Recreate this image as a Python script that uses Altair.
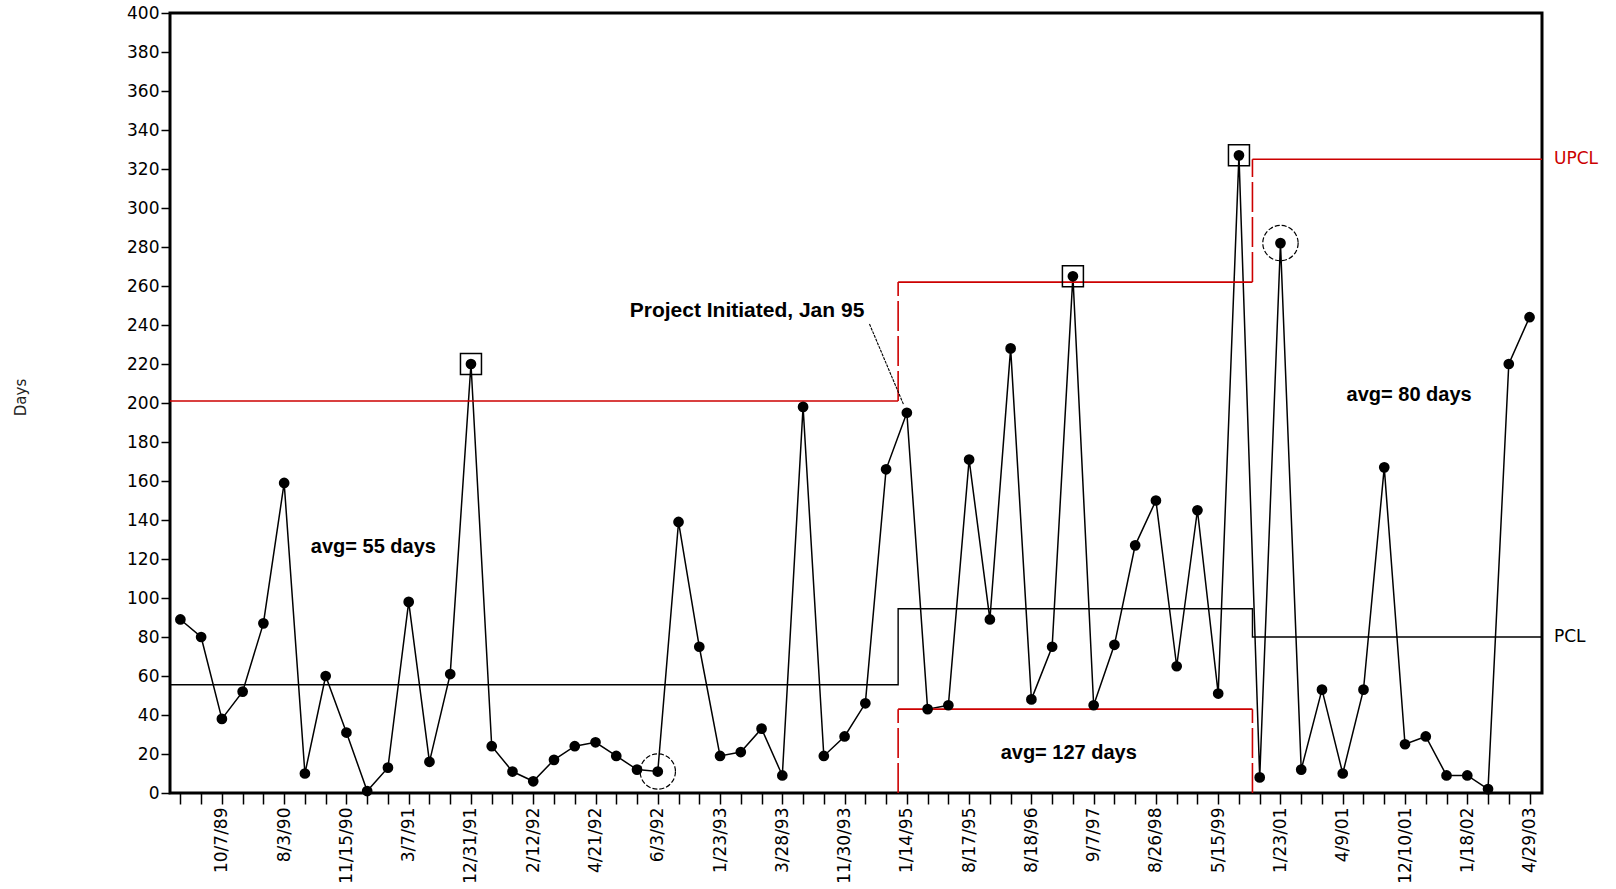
import json
import altair as alt
import pandas as pd

# ---------------- data ----------------
days = [89, 80, 38, 52, 87, 159, 10, 60, 31, 1,
        13, 98, 16, 61, 220, 24, 11, 6, 17, 24,
        26, 19, 12, 11, 139, 75, 19, 21, 33, 9,
        198, 19, 29, 46, 166, 195, 43, 45, 171, 89,
        228, 48, 75, 265, 45, 76, 127, 150, 65, 145,
        51, 327, 8, 282, 12, 53, 10, 53, 167, 25,
        29, 9, 9, 2, 220, 244]

tick_labels = ["10/7/89", "8/3/90", "11/15/90", "3/7/91", "12/31/91", "2/12/92",
               "4/21/92", "6/3/92", "1/23/93", "3/28/93", "11/30/93", "1/14/95",
               "8/17/95", "8/18/96", "9/7/97", "8/26/98", "5/15/99", "1/23/01",
               "4/9/01", "12/10/01", "1/18/02", "4/29/03"]

boxed_points = [14, 43, 51]      # points drawn with a square around them
circled_points = [23, 53]        # points drawn with a dashed circle

# process periods: start, end (in point index units), PCL, UPCL, LPCL
period_breaks = [-0.5, 34.58, 51.65, 65.6]
pcl = [55.5, 94.5, 80]
upcl = [201, 262, 325]
lpcl_mid = 43

annotations = [
    {"x": 9.3, "y": 126, "text": "avg= 55 days", "fs": 20},
    {"x": 42.8, "y": 20.6, "text": "avg= 127 days", "fs": 20},
    {"x": 59.2, "y": 204, "text": "avg= 80 days", "fs": 20},
    {"x": 27.3, "y": 247, "text": "Project Initiated, Jan 95", "fs": 21},
]
pointer = [{"x": 33.2, "y": 240.5, "x2": 34.85, "y2": 199}]

RED = "#cc0000"
XMIN, XMAX = period_breaks[0], period_breaks[-1]

# ---------------- frames ----------------
n = len(days)
df = pd.DataFrame({"i": list(range(n)), "days": days})

labels_full = [""] * n
for k, lab in enumerate(tick_labels):
    labels_full[2 + 3 * k] = lab
label_expr = json.dumps(labels_full) + "[datum.value]"

pcl_path = []
order = 0
for k in range(3):
    pcl_path.append({"i": period_breaks[k], "days": pcl[k], "o": order}); order += 1
    pcl_path.append({"i": period_breaks[k + 1], "days": pcl[k], "o": order}); order += 1
pcl_df = pd.DataFrame(pcl_path)

solid_red = pd.DataFrame(
    [{"i": period_breaks[k], "i2": period_breaks[k + 1], "days": upcl[k], "days2": upcl[k]} for k in range(3)]
    + [{"i": period_breaks[1], "i2": period_breaks[2], "days": lpcl_mid, "days2": lpcl_mid}]
)
dashed_red = pd.DataFrame([
    {"i": period_breaks[1], "i2": period_breaks[1], "days": upcl[0], "days2": upcl[1]},
    {"i": period_breaks[2], "i2": period_breaks[2], "days": upcl[1], "days2": upcl[2]},
    {"i": period_breaks[1], "i2": period_breaks[1], "days": 0, "days2": lpcl_mid},
    {"i": period_breaks[2], "i2": period_breaks[2], "days": 0, "days2": lpcl_mid},
])

side_labels = pd.DataFrame([
    {"i": XMAX, "days": upcl[2], "text": "UPCL", "c": RED},
    {"i": XMAX, "days": pcl[2], "text": "PCL", "c": "black"},
])

ann_df = pd.DataFrame(annotations).rename(columns={"x": "i", "y": "days"})
ptr_df = pd.DataFrame(pointer).rename(columns={"x": "i", "y": "days", "x2": "i2", "y2": "days2"})
box_df = df[df["i"].isin(boxed_points)]
circ_df = df[df["i"].isin(circled_points)]

# ---------------- scales / axes ----------------
xscale = alt.Scale(domain=[XMIN, XMAX], nice=False, zero=False)
yscale = alt.Scale(domain=[0, 400], nice=False, zero=True)

xaxis = alt.Axis(values=list(range(n)), labelExpr=label_expr, labelAngle=-90,
                 labelOverlap=False, labelFlush=False, labelBound=False,
                 grid=False, domain=False, tickSize=11, tickWidth=1.5, tickColor="black",
                 labelFont="DejaVu Sans", labelFontSize=17, labelColor="black",
                 labelPadding=3, title=None)
yaxis = alt.Axis(values=list(range(0, 401, 20)), labelOverlap=False, grid=False, domain=False,
                 tickSize=9, tickWidth=1.5, tickColor="black",
                 labelFont="DejaVu Sans", labelFontSize=17, labelColor="black",
                 labelPadding=2, title="Days", titleFont="DejaVu Sans",
                 titleFontSize=15, titleFontWeight="normal", titleColor="#222",
                 titleAngle=-90, titleX=-150, titleY=384, titleAlign="center",
                 titleBaseline="middle")

X = alt.X("i:Q", scale=xscale, axis=xaxis)
Y = alt.Y("days:Q", scale=yscale, axis=yaxis)
X2 = alt.X2("i2:Q")
Y2 = alt.Y2("days2:Q")

line = alt.Chart(df).mark_line(color="black", strokeWidth=1.5)
pts = alt.Chart(df).mark_point(shape="circle", filled=True, color="black", size=115, opacity=1)

pcl_line = alt.Chart(pcl_df).mark_line(color="black", strokeWidth=1.4, interpolate="linear").encode(
    order="o:Q")
red_solid = alt.Chart(solid_red).mark_rule(color=RED, strokeWidth=1.6).encode(x2=X2, y2=Y2)
red_dash = alt.Chart(dashed_red).mark_rule(color=RED, strokeWidth=1.6, strokeDash=[30, 5]).encode(
    x2=X2, y2=Y2)

boxes = alt.Chart(box_df).mark_point(shape="square", size=441, filled=False, color="black",
                                     strokeWidth=1.5, opacity=1)
circles = alt.Chart(circ_df).mark_point(shape="circle", size=1250, filled=False, color="black",
                                        strokeWidth=1.2, strokeDash=[5, 2], opacity=1)

ptr = alt.Chart(ptr_df).mark_rule(color="black", strokeWidth=1.1, strokeDash=[3, 1]).encode(
    x2=X2, y2=Y2)

ann = alt.Chart(ann_df).mark_text(font="Liberation Sans", fontWeight="bold",
                                  align="center", baseline="middle", color="black").encode(
    text="text:N", size=alt.Size("fs:Q", scale=None, legend=None))

side = alt.Chart(side_labels).mark_text(font="DejaVu Sans", fontSize=17, align="left",
                                        baseline="middle", dx=12, clip=False).encode(
    text="text:N", color=alt.Color("c:N", scale=None))

chart = alt.layer(line, pcl_line, red_solid, red_dash, pts, boxes, circles, ptr, ann, side).encode(
    x=X, y=Y
).properties(
    width=1372, height=780,
    autosize=alt.AutoSizeParams(type="none"),
    padding={"left": 170, "top": 13, "right": 74, "bottom": 96},
    background="white",
).configure_view(stroke="black", strokeWidth=3)

chart.save("out.html", embed_options={"renderer": "svg", "actions": False})
